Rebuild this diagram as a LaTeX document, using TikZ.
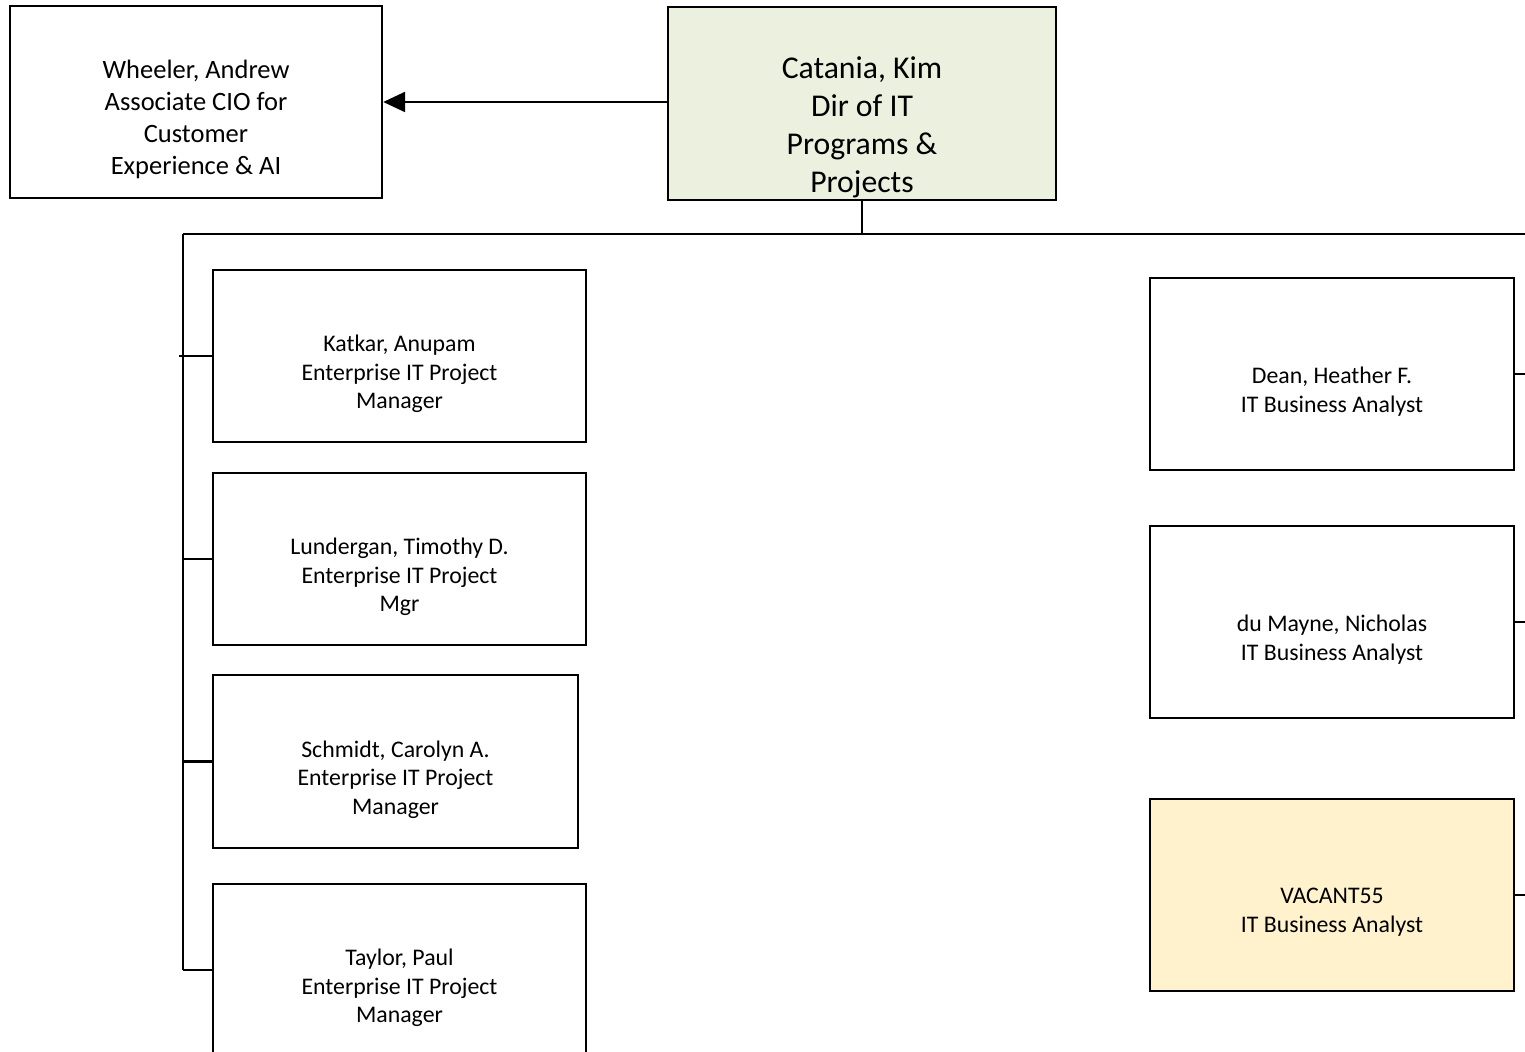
\documentclass[tikz,border=0pt]{standalone}
\usepackage{fontspec}
\setmainfont{Carlito}
\usetikzlibrary{arrows.meta}

\definecolor{dirgreen}{HTML}{EBF1DE}
\definecolor{vacyellow}{HTML}{FFF2CC}

\tikzset{
    box/.style={draw, line width=1.2pt, inner sep=0pt},
    txt/.style={align=center, inner sep=0pt, font=\fontsize{11.9}{14.35}\selectfont},
    link/.style={line width=1.2pt}
}

\begin{document}
\begin{tikzpicture}[x=0.5pt, y=-0.5pt]
        \useasboundingbox (0,0) rectangle (1525,1052);

        \node[box, minimum width=186pt, minimum height=96pt] (wheeler) at (196,102) {};
        \node[box, fill=dirgreen, minimum width=194pt, minimum height=96.5pt] (catania) at (862,103.5) {};

        \node[box, minimum width=186.5pt, minimum height=86pt] (katkar) at (399.5,356) {};
        \node[box, minimum width=186.5pt, minimum height=86pt] (lundergan) at (399.5,559) {};
        \node[box, minimum width=182.5pt, minimum height=86.5pt] (schmidt) at (395.5,761.5) {};
        \node[box, minimum width=186.5pt, minimum height=86pt] (taylor) at (399.5,970) {};

        \node[box, minimum width=182pt, minimum height=96pt] (dean) at (1332,374) {};
        \node[box, minimum width=182pt, minimum height=96pt] (dumayne) at (1332,622) {};
        \node[box, fill=vacyellow, minimum width=182pt, minimum height=96pt] (vacant) at (1332,895) {};

        \node[txt, font=\fontsize{13.25}{16}\selectfont] (wheeler-t) at ([yshift=-8.75pt]wheeler.center)
            {Wheeler, Andrew\\Associate CIO for\\Customer\\Experience \& AI};
        \node[txt, font=\fontsize{15.85}{19}\selectfont] (catania-t) at ([yshift=-12pt]catania.center)
            {Catania, Kim\\Dir of IT\\Programs \&\\Projects};

        \node[txt] (katkar-t) at ([yshift=-9pt]katkar.center) {Katkar, Anupam\\Enterprise IT Project\\Manager};
        \node[txt] (lundergan-t) at ([yshift=-9pt]lundergan.center) {Lundergan, Timothy D.\\Enterprise IT Project\\Mgr};
        \node[txt] (schmidt-t) at ([yshift=-9pt]schmidt.center) {Schmidt, Carolyn A.\\Enterprise IT Project\\Manager};
        \node[txt] (taylor-t) at ([yshift=-9pt]taylor.center) {Taylor, Paul\\Enterprise IT Project\\Manager};

        \node[txt] (dean-t) at ([yshift=-8.75pt]dean.center) {Dean, Heather F.\\IT Business Analyst};
        \node[txt] (dumayne-t) at ([yshift=-8.75pt]dumayne.center) {du Mayne, Nicholas\\IT Business Analyst};
        \node[txt] (vacant-t) at ([yshift=-8.75pt]vacant.center) {VACANT55\\IT Business Analyst};

        \coordinate (busL) at (183,234);
        \coordinate (busR) at (1525,234);
        \coordinate (busC) at (catania.south |- busL);

        \draw[link, -{Triangle[length=11pt, width=10pt]}] (catania.west |- wheeler.east) -- (wheeler.east);
        \draw[link] (catania.south) -- (busC);
        \draw[link] (busL) -- (busR);
        \draw[link] (busL) -- (busL |- taylor.west);

        \draw[link] ([xshift=-2pt]busL |- katkar.west) -- (katkar.west);
        \foreach \n in {lundergan, schmidt, taylor}
            \draw[link] (busL |- \n.west) -- (\n.west);
        \foreach \n in {dean, dumayne, vacant}
            \draw[link] (\n.east) -- (\n.east -| busR);

    \end{tikzpicture}
\end{document}
